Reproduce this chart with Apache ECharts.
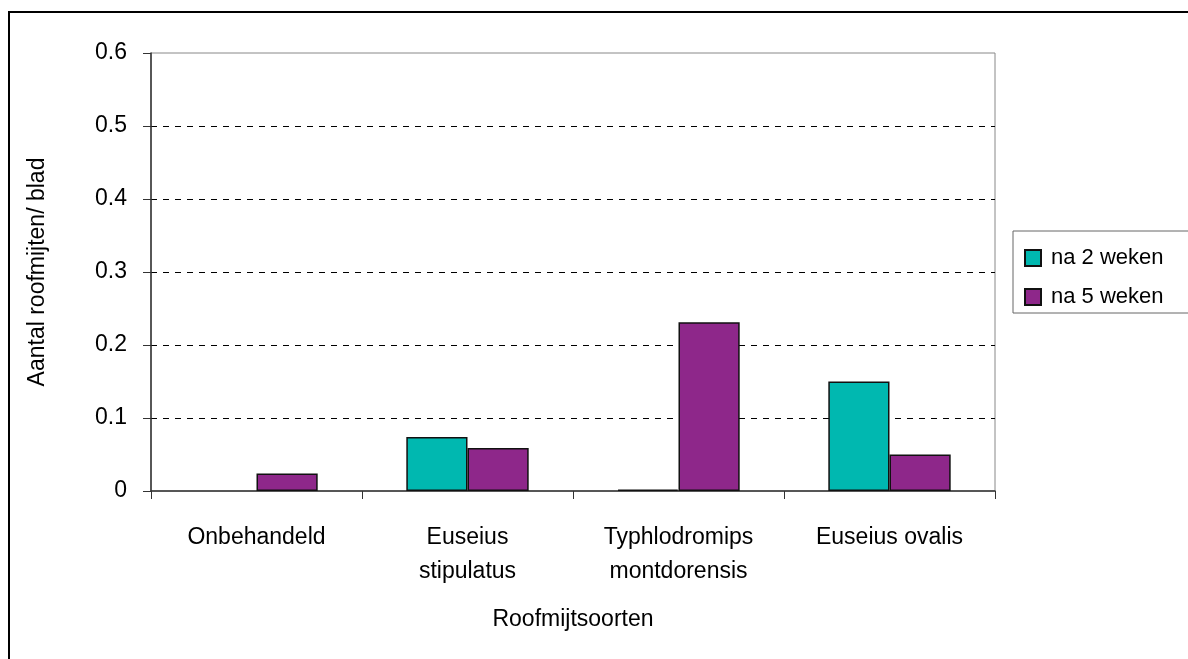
<!DOCTYPE html>
<html><head><meta charset="utf-8">
<script src="https://cdn.jsdelivr.net/npm/echarts@6/dist/echarts.min.js"></script>
<style>html,body{margin:0;padding:0;background:#fff}#c{width:1188px;height:659px}</style>
</head><body><div id="c"></div>
<script>
const categories = ['Onbehandeld', 'Euseius\nstipulatus', 'Typhlodromips\nmontdorensis', 'Euseius ovalis'];
const seriesNames = ['na 2 weken', 'na 5 weken'];
const week2 = [0, 0.074, 0.002, 0.150];
const week5 = [0.024, 0.059, 0.231, 0.050];
const yTicks = [0, 0.1, 0.2, 0.3, 0.4, 0.5, 0.6];

const F = 'Liberation Sans, Arial, sans-serif';
const FS = 23;
const prep = arr => arr.map(v => v === 0 ? {value: 0, itemStyle: {borderWidth: 0}} : v);
const chart = echarts.init(document.getElementById('c'), null, {renderer: 'canvas'});
chart.setOption({
  animation: false,
  backgroundColor: '#fff',
  textStyle: {fontFamily: F, color: '#000'},
  graphic: [{
    type: 'rect', shape: {x: 9, y: 12, width: 1300, height: 800},
    style: {fill: 'none', stroke: '#000', lineWidth: 2}, z: -1
  }],
  grid: {left: 151, right: 193, top: 53, bottom: 168, show: true, borderColor: '#888', borderWidth: 1},
  legend: {
    orient: 'vertical', left: 1013, top: 231,
    icon: 'rect',
    itemWidth: 16, itemHeight: 16, itemGap: 17,
    padding: [16, 60, 5, 11],
    borderColor: '#666', borderWidth: 1,
    textStyle: {fontSize: 22, color: '#000', fontFamily: F, padding: [0, 0, 0, 5]},
    data: seriesNames
  },
  xAxis: {
    type: 'category', data: categories,
    name: 'Roofmijtsoorten', nameLocation: 'middle', nameGap: 117,
    nameTextStyle: {fontSize: FS, color: '#000', fontFamily: F},
    axisLine: {lineStyle: {color: '#333', width: 1.5}},
    axisTick: {show: true, length: 8, lineStyle: {color: '#333'}},
    axisLabel: {fontSize: FS, color: '#000', margin: 30, lineHeight: 34, interval: 0, fontFamily: F},
    splitLine: {show: false}
  },
  yAxis: {
    type: 'value', min: 0, max: 0.6, interval: 0.1,
    name: 'Aantal roofmijten/ blad', nameLocation: 'middle', nameGap: 102, nameRotate: 90,
    nameTextStyle: {fontSize: FS, color: '#000', fontFamily: F},
    axisLine: {show: true, lineStyle: {color: '#333', width: 1.5}},
    axisTick: {show: true, length: 8, lineStyle: {color: '#333'}},
    axisLabel: {fontSize: FS, color: '#000', margin: 24, fontFamily: F,
      formatter: v => { const t = yTicks.find(x => Math.abs(x - v) < 1e-9); return t === 0 ? '0' : String(t); }},
    splitLine: {show: true, lineStyle: {color: ['transparent', '#000', '#000', '#000', '#000', '#000', 'transparent'], type: [6, 6], width: 1}}
  },
  series: [
    {name: seriesNames[0], type: 'bar', data: prep(week2), barGap: '0%', barCategoryGap: '42%',
     itemStyle: {color: '#00B8B0', borderColor: '#111', borderWidth: 1.5}},
    {name: seriesNames[1], type: 'bar', data: prep(week5), barGap: '0%', barCategoryGap: '42%',
     itemStyle: {color: '#8E278A', borderColor: '#111', borderWidth: 1.5}}
  ]
});
</script></body></html>
